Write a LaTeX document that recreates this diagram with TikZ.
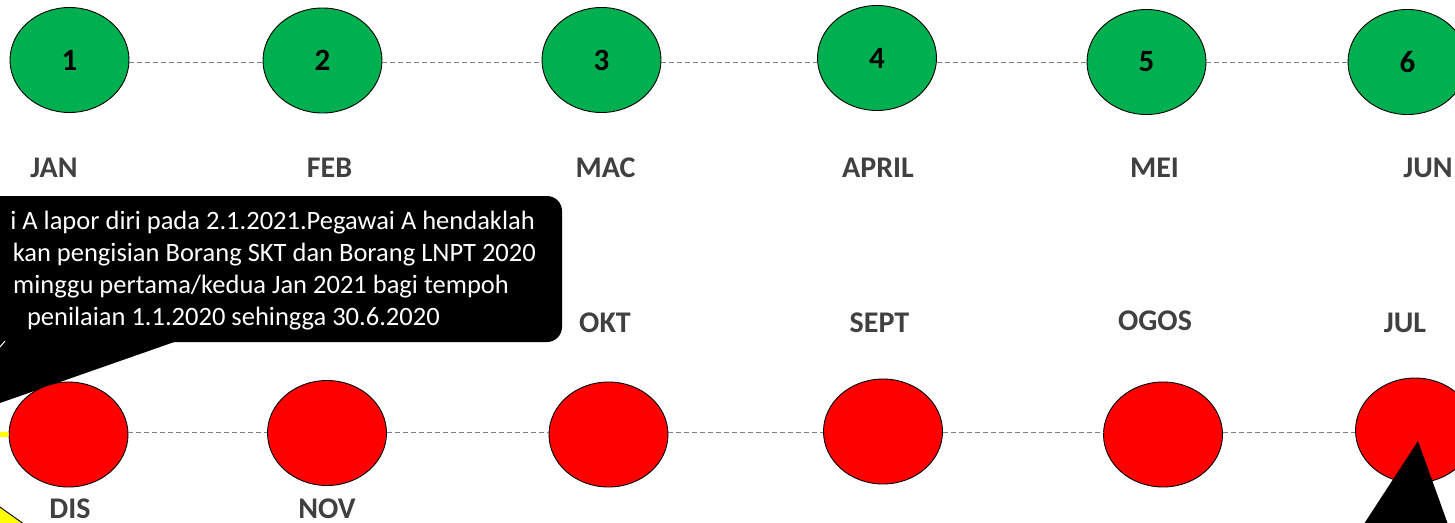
\documentclass[tikz,border=0pt]{standalone}
\usepackage{fontspec}
\setmainfont{Carlito}
\usetikzlibrary{shapes.geometric}
\definecolor{mgreen}{RGB}{0,176,80}
\definecolor{mred}{RGB}{255,0,0}
\definecolor{lblgray}{RGB}{64,64,64}
\definecolor{dashgray}{RGB}{128,128,128}
\definecolor{myellow}{RGB}{255,255,0}
\begin{document}
\begin{tikzpicture}[x=1pt,y=-1pt,
  circbase/.style={ellipse,draw=black,line width=0.9pt,minimum width=119pt,minimum height=105pt,inner sep=0pt,font=\fontsize{31}{33}\selectfont\bfseries,text=black},
  gcirc/.style={circbase,fill=mgreen},
  rcirc/.style={circbase,fill=mred},
  mlabel/.style={anchor=base,font=\fontsize{30}{32}\selectfont\bfseries,text=lblgray,inner sep=0pt},
  dashline/.style={draw=dashgray,line width=1pt,dash pattern=on 5pt off 3pt},
  calltext/.style={anchor=base east,text=white,font=\fontsize{26.5}{31}\selectfont,inner sep=0pt}
]
\useasboundingbox (0,0) rectangle (1455,522);
\clip (0,0) rectangle (1455,522);

% callout box and tail
\fill[black,rounded corners=15pt] (-40,196) rectangle (562,342);
\fill[black] (180,340) -- (0,403) -- (-30,413.6) -- (-30,340) -- cycle;
\draw[white,line width=1pt] (0,347) -- (5,341);

\node[calltext] (t1) at (535,229) {i A lapor diri pada 2.1.2021.Pegawai A hendaklah};
\node[calltext] (t2) at (536,261) {kan pengisian Borang SKT dan Borang LNPT 2020};
\node[calltext] (t3) at (509,293) {minggu pertama/kedua Jan 2021 bagi tempoh};
\node[calltext] (t4) at (440,325) {penilaian 1.1.2020 sehingga 30.6.2020};

% top row
\coordinate (ytop) at (0,62);
\coordinate (ybot) at (0,432.5);
\node[gcirc] (g1) at (69.5,60) {1};
\node[gcirc] (g2) at (322.5,60.5) {2};
\node[gcirc] (g3) at (601.5,60) {3};
\node[gcirc] (g4) at (877,58) {4};
\node[gcirc] (g5) at (1146.5,62) {5};
\node[gcirc] (g6) at (1407.5,62) {6};
\draw[dashline] (g1.east |- ytop) -- (g2.west |- ytop);
\draw[dashline] (g2.east |- ytop) -- (g3.west |- ytop);
\draw[dashline] (g3.east |- ytop) -- (g4.west |- ytop);
\draw[dashline] (g4.east |- ytop) -- (g5.west |- ytop);
\draw[dashline] (g5.east |- ytop) -- (g6.west |- ytop);

\node[mlabel] (ljan) at (54,177) {JAN};
\node[mlabel] (lfeb) at (329.5,177) {FEB};
\node[mlabel] (lmac) at (605.5,177) {MAC};
\node[mlabel] (lapr) at (878,177) {APRIL};
\node[mlabel] (lmei) at (1154.5,177) {MEI};
\node[mlabel] (ljun) at (1428,177) {JUN};

% bottom row
\node[rcirc] (r12) at (68.5,434.5) {};
\node[rcirc] (r11) at (327,433) {};
\node[rcirc] (r10) at (608.5,434.5) {};
\node[rcirc] (r9) at (883,431.5) {};
\node[rcirc] (r8) at (1163,434.5) {};
\node[rcirc] (r7) at (1415,430.5) {};
\draw[dashline] (r12.east |- ybot) -- (r11.west |- ybot);
\draw[dashline] (r11.east |- ybot) -- (r10.west |- ybot);
\draw[dashline] (r10.east |- ybot) -- (r9.west |- ybot);
\draw[dashline] (r9.east |- ybot) -- (r8.west |- ybot);
\draw[dashline] (r8.east |- ybot) -- (r7.west |- ybot);

\coordinate (yl) at (-20,433.5);
\draw[myellow,line width=5pt] (yl) -- (r12.west);

\node[mlabel] (lokt) at (605,332) {OKT};
\node[mlabel] (lsep) at (879.5,332) {SEPT};
\node[mlabel] (logo) at (1155,330) {OGOS};
\node[mlabel] (ljul) at (1405,332) {JUL};
\node[mlabel] (ldis) at (70,518) {DIS};
\node[mlabel] (lnov) at (327,518) {NOV};

% yellow shape bottom-left
\filldraw[fill=myellow,draw=black,line width=0.9pt] (-10,499.9) -- (30,528.4) -- (-10,540) -- cycle;

% black pointer bottom-right
\fill[black] (1418,441) -- (1360,530) -- (1450,530) -- cycle;
\end{tikzpicture}
\end{document}
